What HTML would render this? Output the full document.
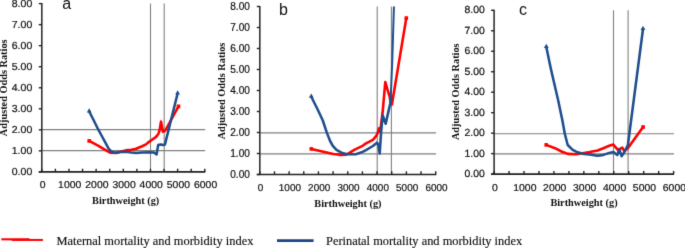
<!DOCTYPE html><html><head><meta charset="utf-8"><style>html,body{margin:0;padding:0;background:#fff;width:685px;height:248px;overflow:hidden}svg{display:block;will-change:transform}</style></head><body>
<svg width="685" height="248" viewBox="0 0 685 248">
<defs><filter id="soft" x="0" y="0" width="685" height="248" filterUnits="userSpaceOnUse" color-interpolation-filters="sRGB"><feConvolveMatrix order="3" kernelMatrix="1 8 1 8 64 8 1 8 1" divisor="100" edgeMode="duplicate"/></filter></defs>
<g filter="url(#soft)">
<rect width="685" height="248" fill="#fff"/>
<clipPath id="clipa"><rect x="41.8" y="3.6" width="166.0" height="168.3"/></clipPath>
<line x1="41.8" y1="129.60" x2="205.20000000000002" y2="129.60" stroke="#808080" stroke-width="1.1"/>
<line x1="41.8" y1="150.60" x2="205.20000000000002" y2="150.60" stroke="#808080" stroke-width="1.1"/>
<line x1="150.50" y1="3.6" x2="150.50" y2="171.9" stroke="#808080" stroke-width="1.1"/>
<line x1="164.20" y1="3.6" x2="164.20" y2="171.9" stroke="#808080" stroke-width="1.1"/>
<g clip-path="url(#clipa)" fill="none" stroke-linejoin="round" stroke-linecap="round">
<polyline points="89.2,140.9 98.0,145.7 106.5,150.6 110.1,152.6 116.1,153.0 123.4,150.9 127.6,150.0 131.3,149.8 136.1,148.8 142.1,146.2 146.0,144.4 148.0,142.6 152.0,139.7 156.1,136.9 158.5,133.7 159.7,129.6 161.0,121.6 162.9,131.8 165.3,130.5 178.5,106.3" stroke="#ff0000" stroke-width="2.6"/>
<polyline points="89.2,111.5 93.3,119.5 98.1,129.2 101.5,135.5 104.6,141.2 108.6,148.6 111.5,151.6 114.0,152.5 116.5,152.6 123.0,151.8 127.6,152.0 131.3,152.5 136.1,153.0 142.1,152.6 150.0,152.2 154.0,152.4 156.6,154.4 158.2,145.0 160.5,144.4 163.5,145.0 164.9,144.6 177.6,93.5" stroke="#1f4e8d" stroke-width="2.55"/>
</g>
<path d="M89.2,108.3 L91.6,112.5 L86.8,112.5Z" fill="#1f4e8d"/>
<path d="M177.6,90.3 L180.0,94.5 L175.2,94.5Z" fill="#1f4e8d"/>
<rect x="87.4" y="139.1" width="3.6" height="3.6" fill="#ff0000"/>
<rect x="176.7" y="104.5" width="3.6" height="3.6" fill="#ff0000"/>
<line x1="41.8" y1="3.1" x2="41.8" y2="171.9" stroke="#333" stroke-width="1.6"/>
<line x1="38.8" y1="171.9" x2="205.3" y2="171.9" stroke="#222" stroke-width="1.7"/>
<line x1="38.8" y1="171.90" x2="41.8" y2="171.90" stroke="#222" stroke-width="1.4"/>
<line x1="38.8" y1="150.86" x2="41.8" y2="150.86" stroke="#222" stroke-width="1.4"/>
<line x1="38.8" y1="129.82" x2="41.8" y2="129.82" stroke="#222" stroke-width="1.4"/>
<line x1="38.8" y1="108.79" x2="41.8" y2="108.79" stroke="#222" stroke-width="1.4"/>
<line x1="38.8" y1="87.75" x2="41.8" y2="87.75" stroke="#222" stroke-width="1.4"/>
<line x1="38.8" y1="66.71" x2="41.8" y2="66.71" stroke="#222" stroke-width="1.4"/>
<line x1="38.8" y1="45.67" x2="41.8" y2="45.67" stroke="#222" stroke-width="1.4"/>
<line x1="38.8" y1="24.64" x2="41.8" y2="24.64" stroke="#222" stroke-width="1.4"/>
<line x1="38.8" y1="3.60" x2="41.8" y2="3.60" stroke="#222" stroke-width="1.4"/>
<line x1="41.80" y1="168.70" x2="41.80" y2="171.9" stroke="#222" stroke-width="1.4"/>
<line x1="55.38" y1="168.70" x2="55.38" y2="171.9" stroke="#222" stroke-width="1.4"/>
<line x1="68.97" y1="168.70" x2="68.97" y2="171.9" stroke="#222" stroke-width="1.4"/>
<line x1="82.55" y1="168.70" x2="82.55" y2="171.9" stroke="#222" stroke-width="1.4"/>
<line x1="96.13" y1="168.70" x2="96.13" y2="171.9" stroke="#222" stroke-width="1.4"/>
<line x1="109.72" y1="168.70" x2="109.72" y2="171.9" stroke="#222" stroke-width="1.4"/>
<line x1="123.30" y1="168.70" x2="123.30" y2="171.9" stroke="#222" stroke-width="1.4"/>
<line x1="136.88" y1="168.70" x2="136.88" y2="171.9" stroke="#222" stroke-width="1.4"/>
<line x1="150.47" y1="168.70" x2="150.47" y2="171.9" stroke="#222" stroke-width="1.4"/>
<line x1="164.05" y1="168.70" x2="164.05" y2="171.9" stroke="#222" stroke-width="1.4"/>
<line x1="177.63" y1="168.70" x2="177.63" y2="171.9" stroke="#222" stroke-width="1.4"/>
<line x1="191.22" y1="168.70" x2="191.22" y2="171.9" stroke="#222" stroke-width="1.4"/>
<line x1="204.80" y1="168.70" x2="204.80" y2="171.9" stroke="#222" stroke-width="1.4"/>
<text transform="translate(32.30,175.30) scale(1.04,1) skewX(0.5)" text-anchor="end" font-family="Liberation Sans, sans-serif" font-size="10.2" fill="#111" stroke="#111" stroke-width="0.2">0.00</text>
<text transform="translate(32.30,154.26) scale(1.04,1) skewX(0.5)" text-anchor="end" font-family="Liberation Sans, sans-serif" font-size="10.2" fill="#111" stroke="#111" stroke-width="0.2">1.00</text>
<text transform="translate(32.30,133.22) scale(1.04,1) skewX(0.5)" text-anchor="end" font-family="Liberation Sans, sans-serif" font-size="10.2" fill="#111" stroke="#111" stroke-width="0.2">2.00</text>
<text transform="translate(32.30,112.19) scale(1.04,1) skewX(0.5)" text-anchor="end" font-family="Liberation Sans, sans-serif" font-size="10.2" fill="#111" stroke="#111" stroke-width="0.2">3.00</text>
<text transform="translate(32.30,91.15) scale(1.04,1) skewX(0.5)" text-anchor="end" font-family="Liberation Sans, sans-serif" font-size="10.2" fill="#111" stroke="#111" stroke-width="0.2">4.00</text>
<text transform="translate(32.30,70.11) scale(1.04,1) skewX(0.5)" text-anchor="end" font-family="Liberation Sans, sans-serif" font-size="10.2" fill="#111" stroke="#111" stroke-width="0.2">5.00</text>
<text transform="translate(32.30,49.07) scale(1.04,1) skewX(0.5)" text-anchor="end" font-family="Liberation Sans, sans-serif" font-size="10.2" fill="#111" stroke="#111" stroke-width="0.2">6.00</text>
<text transform="translate(32.30,28.04) scale(1.04,1) skewX(0.5)" text-anchor="end" font-family="Liberation Sans, sans-serif" font-size="10.2" fill="#111" stroke="#111" stroke-width="0.2">7.00</text>
<text transform="translate(32.30,7.00) scale(1.04,1) skewX(0.5)" text-anchor="end" font-family="Liberation Sans, sans-serif" font-size="10.2" fill="#111" stroke="#111" stroke-width="0.2">8.00</text>
<text transform="translate(42.60,187.80) scale(1.05,1) skewX(0.5)" text-anchor="middle" font-family="Liberation Sans, sans-serif" font-size="10.0" fill="#111" stroke="#111" stroke-width="0.2">0</text>
<text transform="translate(69.77,187.80) scale(1.05,1) skewX(0.5)" text-anchor="middle" font-family="Liberation Sans, sans-serif" font-size="10.0" fill="#111" stroke="#111" stroke-width="0.2">1000</text>
<text transform="translate(96.93,187.80) scale(1.05,1) skewX(0.5)" text-anchor="middle" font-family="Liberation Sans, sans-serif" font-size="10.0" fill="#111" stroke="#111" stroke-width="0.2">2000</text>
<text transform="translate(124.10,187.80) scale(1.05,1) skewX(0.5)" text-anchor="middle" font-family="Liberation Sans, sans-serif" font-size="10.0" fill="#111" stroke="#111" stroke-width="0.2">3000</text>
<text transform="translate(151.27,187.80) scale(1.05,1) skewX(0.5)" text-anchor="middle" font-family="Liberation Sans, sans-serif" font-size="10.0" fill="#111" stroke="#111" stroke-width="0.2">4000</text>
<text transform="translate(178.43,187.80) scale(1.05,1) skewX(0.5)" text-anchor="middle" font-family="Liberation Sans, sans-serif" font-size="10.0" fill="#111" stroke="#111" stroke-width="0.2">5000</text>
<text transform="translate(205.60,187.80) scale(1.05,1) skewX(0.5)" text-anchor="middle" font-family="Liberation Sans, sans-serif" font-size="10.0" fill="#111" stroke="#111" stroke-width="0.2">6000</text>
<text x="92.10" y="203.80" font-family="Liberation Serif, serif" font-weight="bold" font-size="10.3" fill="#111">Birthweight (g)</text>
<text transform="translate(6.70,87.80) rotate(-90)" text-anchor="middle" font-family="Liberation Serif, serif" font-weight="bold" font-size="10.3" fill="#111">Adjusted Odds Ratios</text>
<text x="62.20" y="8.90" font-family="Liberation Sans, sans-serif" font-size="16" fill="#111">a</text>
<clipPath id="clipb"><rect x="259.8" y="6.5" width="178.89999999999998" height="168.0"/></clipPath>
<line x1="259.8" y1="132.90" x2="436.09999999999997" y2="132.90" stroke="#808080" stroke-width="1.1"/>
<line x1="259.8" y1="153.90" x2="436.09999999999997" y2="153.90" stroke="#808080" stroke-width="1.1"/>
<line x1="377.20" y1="6.5" x2="377.20" y2="174.5" stroke="#808080" stroke-width="1.1"/>
<line x1="391.40" y1="6.5" x2="391.40" y2="174.5" stroke="#808080" stroke-width="1.1"/>
<g clip-path="url(#clipb)" fill="none" stroke-linejoin="round" stroke-linecap="round">
<polyline points="311.3,148.9 330.0,153.3 333.3,154.0 338.2,154.4 340.0,155.0 345.6,154.7 349.0,153.1 354.7,149.6 362.6,145.8 366.0,143.4 372.9,139.9 376.3,135.9 377.7,133.0 379.0,128.4 380.2,131.5 382.6,112.5 385.3,82.0 391.9,104.5 406.3,18.1" stroke="#ff0000" stroke-width="2.6"/>
<polyline points="311.3,96.8 316.8,107.8 320.5,115.5 322.8,120.5 326.9,132.9 330.1,141.0 332.8,145.8 336.5,149.8 341.4,152.7 346.2,153.9 348.0,154.2 355.8,154.3 362.6,151.9 366.0,150.1 372.9,146.0 377.0,142.7 378.3,144.6 379.7,153.5 381.1,132.2 382.7,115.4 385.7,123.7 388.3,112.1 390.2,103.7 390.7,98.5" stroke="#1f4e8d" stroke-width="2.55"/>
<polyline points="390.7,98.5 392.3,60.0 394.0,4.0" stroke="#1f4e8d" stroke-width="2.0"/>
</g>
<path d="M311.3,93.6 L313.7,97.8 L308.9,97.8Z" fill="#1f4e8d"/>
<path d="M390.7,95.3 L393.1,99.5 L388.3,99.5Z" fill="#1f4e8d"/>
<rect x="309.5" y="147.1" width="3.6" height="3.6" fill="#ff0000"/>
<rect x="404.5" y="16.3" width="3.6" height="3.6" fill="#ff0000"/>
<line x1="259.8" y1="6.0" x2="259.8" y2="174.5" stroke="#333" stroke-width="1.6"/>
<line x1="256.8" y1="174.5" x2="436.2" y2="174.5" stroke="#222" stroke-width="1.7"/>
<line x1="256.8" y1="174.50" x2="259.8" y2="174.50" stroke="#222" stroke-width="1.4"/>
<line x1="256.8" y1="153.50" x2="259.8" y2="153.50" stroke="#222" stroke-width="1.4"/>
<line x1="256.8" y1="132.50" x2="259.8" y2="132.50" stroke="#222" stroke-width="1.4"/>
<line x1="256.8" y1="111.50" x2="259.8" y2="111.50" stroke="#222" stroke-width="1.4"/>
<line x1="256.8" y1="90.50" x2="259.8" y2="90.50" stroke="#222" stroke-width="1.4"/>
<line x1="256.8" y1="69.50" x2="259.8" y2="69.50" stroke="#222" stroke-width="1.4"/>
<line x1="256.8" y1="48.50" x2="259.8" y2="48.50" stroke="#222" stroke-width="1.4"/>
<line x1="256.8" y1="27.50" x2="259.8" y2="27.50" stroke="#222" stroke-width="1.4"/>
<line x1="256.8" y1="6.50" x2="259.8" y2="6.50" stroke="#222" stroke-width="1.4"/>
<line x1="259.80" y1="171.30" x2="259.80" y2="174.5" stroke="#222" stroke-width="1.4"/>
<line x1="274.46" y1="171.30" x2="274.46" y2="174.5" stroke="#222" stroke-width="1.4"/>
<line x1="289.12" y1="171.30" x2="289.12" y2="174.5" stroke="#222" stroke-width="1.4"/>
<line x1="303.77" y1="171.30" x2="303.77" y2="174.5" stroke="#222" stroke-width="1.4"/>
<line x1="318.43" y1="171.30" x2="318.43" y2="174.5" stroke="#222" stroke-width="1.4"/>
<line x1="333.09" y1="171.30" x2="333.09" y2="174.5" stroke="#222" stroke-width="1.4"/>
<line x1="347.75" y1="171.30" x2="347.75" y2="174.5" stroke="#222" stroke-width="1.4"/>
<line x1="362.41" y1="171.30" x2="362.41" y2="174.5" stroke="#222" stroke-width="1.4"/>
<line x1="377.07" y1="171.30" x2="377.07" y2="174.5" stroke="#222" stroke-width="1.4"/>
<line x1="391.73" y1="171.30" x2="391.73" y2="174.5" stroke="#222" stroke-width="1.4"/>
<line x1="406.38" y1="171.30" x2="406.38" y2="174.5" stroke="#222" stroke-width="1.4"/>
<line x1="421.04" y1="171.30" x2="421.04" y2="174.5" stroke="#222" stroke-width="1.4"/>
<line x1="435.70" y1="171.30" x2="435.70" y2="174.5" stroke="#222" stroke-width="1.4"/>
<text transform="translate(249.90,178.30) scale(1.01,1)" text-anchor="end" font-family="Liberation Sans, sans-serif" font-size="10.0" fill="#111" stroke="#111" stroke-width="0.2">0.00</text>
<text transform="translate(249.90,157.30) scale(1.01,1)" text-anchor="end" font-family="Liberation Sans, sans-serif" font-size="10.0" fill="#111" stroke="#111" stroke-width="0.2">1.00</text>
<text transform="translate(249.90,136.30) scale(1.01,1)" text-anchor="end" font-family="Liberation Sans, sans-serif" font-size="10.0" fill="#111" stroke="#111" stroke-width="0.2">2.00</text>
<text transform="translate(249.90,115.30) scale(1.01,1)" text-anchor="end" font-family="Liberation Sans, sans-serif" font-size="10.0" fill="#111" stroke="#111" stroke-width="0.2">3.00</text>
<text transform="translate(249.90,94.30) scale(1.01,1)" text-anchor="end" font-family="Liberation Sans, sans-serif" font-size="10.0" fill="#111" stroke="#111" stroke-width="0.2">4.00</text>
<text transform="translate(249.90,73.30) scale(1.01,1)" text-anchor="end" font-family="Liberation Sans, sans-serif" font-size="10.0" fill="#111" stroke="#111" stroke-width="0.2">5.00</text>
<text transform="translate(249.90,52.30) scale(1.01,1)" text-anchor="end" font-family="Liberation Sans, sans-serif" font-size="10.0" fill="#111" stroke="#111" stroke-width="0.2">6.00</text>
<text transform="translate(249.90,31.30) scale(1.01,1)" text-anchor="end" font-family="Liberation Sans, sans-serif" font-size="10.0" fill="#111" stroke="#111" stroke-width="0.2">7.00</text>
<text transform="translate(249.90,10.30) scale(1.01,1)" text-anchor="end" font-family="Liberation Sans, sans-serif" font-size="10.0" fill="#111" stroke="#111" stroke-width="0.2">8.00</text>
<text transform="translate(260.60,191.30) scale(1.0,1) skewX(0.5)" text-anchor="middle" font-family="Liberation Sans, sans-serif" font-size="10.0" fill="#111" stroke="#111" stroke-width="0.2">0</text>
<text transform="translate(289.92,191.30) scale(1.0,1) skewX(0.5)" text-anchor="middle" font-family="Liberation Sans, sans-serif" font-size="10.0" fill="#111" stroke="#111" stroke-width="0.2">1000</text>
<text transform="translate(319.23,191.30) scale(1.0,1) skewX(0.5)" text-anchor="middle" font-family="Liberation Sans, sans-serif" font-size="10.0" fill="#111" stroke="#111" stroke-width="0.2">2000</text>
<text transform="translate(348.55,191.30) scale(1.0,1) skewX(0.5)" text-anchor="middle" font-family="Liberation Sans, sans-serif" font-size="10.0" fill="#111" stroke="#111" stroke-width="0.2">3000</text>
<text transform="translate(377.87,191.30) scale(1.0,1) skewX(0.5)" text-anchor="middle" font-family="Liberation Sans, sans-serif" font-size="10.0" fill="#111" stroke="#111" stroke-width="0.2">4000</text>
<text transform="translate(407.18,191.30) scale(1.0,1) skewX(0.5)" text-anchor="middle" font-family="Liberation Sans, sans-serif" font-size="10.0" fill="#111" stroke="#111" stroke-width="0.2">5000</text>
<text transform="translate(436.50,191.30) scale(1.0,1) skewX(0.5)" text-anchor="middle" font-family="Liberation Sans, sans-serif" font-size="10.0" fill="#111" stroke="#111" stroke-width="0.2">6000</text>
<text x="314.30" y="206.70" font-family="Liberation Serif, serif" font-weight="bold" font-size="10.3" fill="#111">Birthweight (g)</text>
<text transform="translate(224.80,91.00) rotate(-90)" text-anchor="middle" font-family="Liberation Serif, serif" font-weight="bold" font-size="10.3" fill="#111">Adjusted Odds Ratios</text>
<text x="279.00" y="14.90" font-family="Liberation Sans, sans-serif" font-size="16" fill="#111">b</text>
<clipPath id="clipc"><rect x="494.1" y="10.3" width="182.5" height="163.79999999999998"/></clipPath>
<line x1="494.1" y1="133.70" x2="674.0" y2="133.70" stroke="#808080" stroke-width="1.1"/>
<line x1="494.1" y1="153.85" x2="674.0" y2="153.85" stroke="#808080" stroke-width="1.1"/>
<line x1="613.50" y1="10.3" x2="613.50" y2="174.1" stroke="#808080" stroke-width="1.1"/>
<line x1="628.10" y1="10.3" x2="628.10" y2="174.1" stroke="#808080" stroke-width="1.1"/>
<g clip-path="url(#clipc)" fill="none" stroke-linejoin="round" stroke-linecap="round">
<polyline points="546.2,144.9 555.0,148.2 561.5,151.5 567.9,153.9 576.0,154.2 584.0,153.0 589.8,152.1 597.6,150.5 603.4,148.2 609.2,145.8 613.3,144.6 617.9,149.8 622.3,147.7 624.3,151.0 627.8,148.3 643.1,127.0" stroke="#ff0000" stroke-width="2.6"/>
<polyline points="546.3,47.0 550.9,69.0 558.1,100.0 562.3,120.0 564.8,133.7 567.7,145.0 572.7,149.8 577.6,152.3 584.0,153.9 589.8,154.4 597.6,155.8 603.4,154.9 609.2,152.9 613.4,152.1 617.3,155.0 619.3,149.5 621.6,156.2 624.6,151.8 627.9,145.0 643.0,29.0" stroke="#1f4e8d" stroke-width="2.55"/>
</g>
<path d="M546.3,43.8 L548.7,48.0 L543.9,48.0Z" fill="#1f4e8d"/>
<path d="M643.0,25.8 L645.4,30.0 L640.6,30.0Z" fill="#1f4e8d"/>
<rect x="544.4" y="143.1" width="3.6" height="3.6" fill="#ff0000"/>
<rect x="641.3" y="125.2" width="3.6" height="3.6" fill="#ff0000"/>
<line x1="494.1" y1="9.8" x2="494.1" y2="174.1" stroke="#333" stroke-width="1.6"/>
<line x1="491.1" y1="174.1" x2="674.1" y2="174.1" stroke="#222" stroke-width="1.7"/>
<line x1="491.1" y1="174.10" x2="494.1" y2="174.10" stroke="#222" stroke-width="1.4"/>
<line x1="491.1" y1="153.62" x2="494.1" y2="153.62" stroke="#222" stroke-width="1.4"/>
<line x1="491.1" y1="133.15" x2="494.1" y2="133.15" stroke="#222" stroke-width="1.4"/>
<line x1="491.1" y1="112.67" x2="494.1" y2="112.67" stroke="#222" stroke-width="1.4"/>
<line x1="491.1" y1="92.20" x2="494.1" y2="92.20" stroke="#222" stroke-width="1.4"/>
<line x1="491.1" y1="71.73" x2="494.1" y2="71.73" stroke="#222" stroke-width="1.4"/>
<line x1="491.1" y1="51.25" x2="494.1" y2="51.25" stroke="#222" stroke-width="1.4"/>
<line x1="491.1" y1="30.78" x2="494.1" y2="30.78" stroke="#222" stroke-width="1.4"/>
<line x1="491.1" y1="10.30" x2="494.1" y2="10.30" stroke="#222" stroke-width="1.4"/>
<line x1="494.10" y1="170.90" x2="494.10" y2="174.1" stroke="#222" stroke-width="1.4"/>
<line x1="509.06" y1="170.90" x2="509.06" y2="174.1" stroke="#222" stroke-width="1.4"/>
<line x1="524.02" y1="170.90" x2="524.02" y2="174.1" stroke="#222" stroke-width="1.4"/>
<line x1="538.98" y1="170.90" x2="538.98" y2="174.1" stroke="#222" stroke-width="1.4"/>
<line x1="553.93" y1="170.90" x2="553.93" y2="174.1" stroke="#222" stroke-width="1.4"/>
<line x1="568.89" y1="170.90" x2="568.89" y2="174.1" stroke="#222" stroke-width="1.4"/>
<line x1="583.85" y1="170.90" x2="583.85" y2="174.1" stroke="#222" stroke-width="1.4"/>
<line x1="598.81" y1="170.90" x2="598.81" y2="174.1" stroke="#222" stroke-width="1.4"/>
<line x1="613.77" y1="170.90" x2="613.77" y2="174.1" stroke="#222" stroke-width="1.4"/>
<line x1="628.73" y1="170.90" x2="628.73" y2="174.1" stroke="#222" stroke-width="1.4"/>
<line x1="643.68" y1="170.90" x2="643.68" y2="174.1" stroke="#222" stroke-width="1.4"/>
<line x1="658.64" y1="170.90" x2="658.64" y2="174.1" stroke="#222" stroke-width="1.4"/>
<line x1="673.60" y1="170.90" x2="673.60" y2="174.1" stroke="#222" stroke-width="1.4"/>
<text transform="translate(484.90,177.10) scale(1.01,1) skewX(0.5)" text-anchor="end" font-family="Liberation Sans, sans-serif" font-size="10.4" fill="#111" stroke="#111" stroke-width="0.2">0.00</text>
<text transform="translate(484.90,156.62) scale(1.01,1) skewX(0.5)" text-anchor="end" font-family="Liberation Sans, sans-serif" font-size="10.4" fill="#111" stroke="#111" stroke-width="0.2">1.00</text>
<text transform="translate(484.90,136.15) scale(1.01,1) skewX(0.5)" text-anchor="end" font-family="Liberation Sans, sans-serif" font-size="10.4" fill="#111" stroke="#111" stroke-width="0.2">2.00</text>
<text transform="translate(484.90,115.67) scale(1.01,1) skewX(0.5)" text-anchor="end" font-family="Liberation Sans, sans-serif" font-size="10.4" fill="#111" stroke="#111" stroke-width="0.2">3.00</text>
<text transform="translate(484.90,95.20) scale(1.01,1) skewX(0.5)" text-anchor="end" font-family="Liberation Sans, sans-serif" font-size="10.4" fill="#111" stroke="#111" stroke-width="0.2">4.00</text>
<text transform="translate(484.90,74.73) scale(1.01,1) skewX(0.5)" text-anchor="end" font-family="Liberation Sans, sans-serif" font-size="10.4" fill="#111" stroke="#111" stroke-width="0.2">5.00</text>
<text transform="translate(484.90,54.25) scale(1.01,1) skewX(0.5)" text-anchor="end" font-family="Liberation Sans, sans-serif" font-size="10.4" fill="#111" stroke="#111" stroke-width="0.2">6.00</text>
<text transform="translate(484.90,33.78) scale(1.01,1) skewX(0.5)" text-anchor="end" font-family="Liberation Sans, sans-serif" font-size="10.4" fill="#111" stroke="#111" stroke-width="0.2">7.00</text>
<text transform="translate(484.90,13.30) scale(1.01,1) skewX(0.5)" text-anchor="end" font-family="Liberation Sans, sans-serif" font-size="10.4" fill="#111" stroke="#111" stroke-width="0.2">8.00</text>
<text transform="translate(494.90,191.10) scale(1.05,1) skewX(0.5)" text-anchor="middle" font-family="Liberation Sans, sans-serif" font-size="10.0" fill="#111" stroke="#111" stroke-width="0.2">0</text>
<text transform="translate(524.82,191.10) scale(1.05,1) skewX(0.5)" text-anchor="middle" font-family="Liberation Sans, sans-serif" font-size="10.0" fill="#111" stroke="#111" stroke-width="0.2">1000</text>
<text transform="translate(554.73,191.10) scale(1.05,1) skewX(0.5)" text-anchor="middle" font-family="Liberation Sans, sans-serif" font-size="10.0" fill="#111" stroke="#111" stroke-width="0.2">2000</text>
<text transform="translate(584.65,191.10) scale(1.05,1) skewX(0.5)" text-anchor="middle" font-family="Liberation Sans, sans-serif" font-size="10.0" fill="#111" stroke="#111" stroke-width="0.2">3000</text>
<text transform="translate(614.57,191.10) scale(1.05,1) skewX(0.5)" text-anchor="middle" font-family="Liberation Sans, sans-serif" font-size="10.0" fill="#111" stroke="#111" stroke-width="0.2">4000</text>
<text transform="translate(644.48,191.10) scale(1.05,1) skewX(0.5)" text-anchor="middle" font-family="Liberation Sans, sans-serif" font-size="10.0" fill="#111" stroke="#111" stroke-width="0.2">5000</text>
<text transform="translate(674.40,191.10) scale(1.05,1) skewX(0.5)" text-anchor="middle" font-family="Liberation Sans, sans-serif" font-size="10.0" fill="#111" stroke="#111" stroke-width="0.2">6000</text>
<text x="550.40" y="206.40" font-family="Liberation Serif, serif" font-weight="bold" font-size="10.3" fill="#111">Birthweight (g)</text>
<text transform="translate(458.90,91.75) rotate(-90)" text-anchor="middle" font-family="Liberation Serif, serif" font-weight="bold" font-size="10.3" fill="#111">Adjusted Odds Ratios</text>
<text x="518.90" y="14.80" font-family="Liberation Sans, sans-serif" font-size="16" fill="#111">c</text>
<line x1="1.3" y1="239.3" x2="29.5" y2="239.3" stroke="#ff0000" stroke-width="2.1"/>
<line x1="11.7" y1="239.95" x2="42.9" y2="239.95" stroke="#ff0000" stroke-width="2.0"/>
<text x="56.5" y="245.1" font-family="Liberation Serif, serif" font-size="12.4" fill="#111" stroke="#111" stroke-width="0.15">Maternal mortality and morbidity index</text>
<line x1="277" y1="240.65" x2="313.6" y2="240.65" stroke="#1c4586" stroke-width="2.7"/>
<text x="326" y="245.1" font-family="Liberation Serif, serif" font-size="12.4" fill="#111" stroke="#111" stroke-width="0.15">Perinatal mortality and morbidity index</text>
</g>
</svg></body></html>
